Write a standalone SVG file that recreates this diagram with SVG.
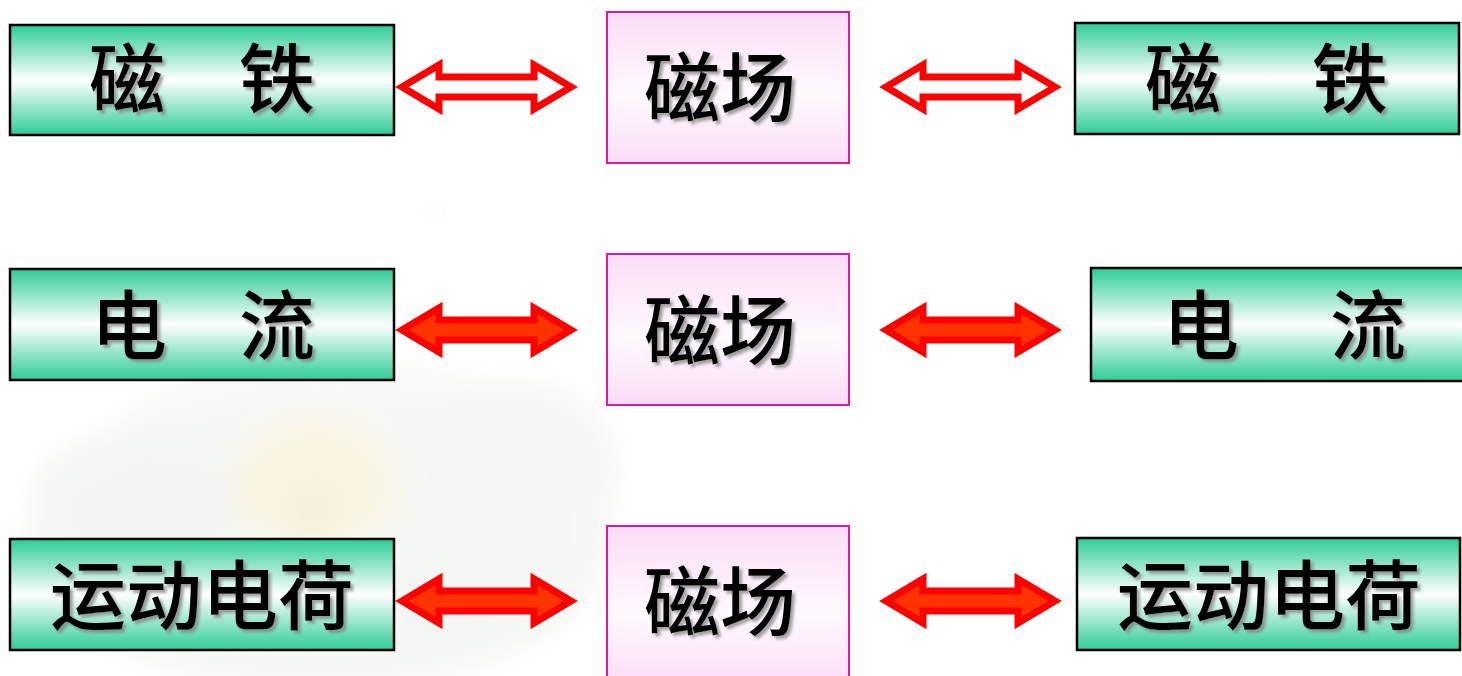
<svg xmlns="http://www.w3.org/2000/svg" width="1462" height="676" viewBox="0 0 1462 676">
<defs>
<linearGradient id="gGreen" x1="0" y1="0" x2="0" y2="1">
<stop offset="0" stop-color="#2ecc96"/>
<stop offset="0.5" stop-color="#ffffff"/>
<stop offset="1" stop-color="#2ecc96"/>
</linearGradient>
<linearGradient id="gPink" x1="0" y1="0" x2="0" y2="1">
<stop offset="0" stop-color="#fadcf5"/>
<stop offset="0.55" stop-color="#fffaff"/>
<stop offset="1" stop-color="#fadcf5"/>
</linearGradient>
<filter id="shadow" x="-20%" y="-20%" width="140%" height="140%">
<feGaussianBlur in="SourceAlpha" stdDeviation="1.6" result="b"/>
<feOffset in="b" dx="3" dy="3" result="o"/>
<feFlood flood-color="#7a7a7a" flood-opacity="0.7"/>
<feComposite in2="o" operator="in" result="s"/>
<feMerge><feMergeNode in="s"/><feMergeNode in="SourceGraphic"/></feMerge>
</filter>
<filter id="blur" x="-30%" y="-30%" width="160%" height="160%">
<feGaussianBlur stdDeviation="16"/>
</filter>
<path id="arr" d="M6,0 L43,-22 L43,-10 L138,-10 L138,-22 L175,0 L138,22 L138,10 L43,10 L43,22 Z"/>
</defs>
<style>
.green{fill:url(#gGreen);stroke:#000;stroke-width:2.5}
.pink{fill:url(#gPink);stroke:#e0189a;stroke-width:2}
.t{font-family:"Noto Sans CJK SC","Noto Sans CJK TC",sans-serif;font-size:76px;font-weight:500;fill:#000;text-anchor:middle;filter:url(#shadow)}
.hollow{fill:#fff;stroke:#ff0000;stroke-width:7;stroke-linejoin:miter;stroke-miterlimit:10}
.solid{fill:#ff3300;stroke:#ff0000;stroke-width:7;stroke-linejoin:miter;stroke-miterlimit:10}
</style>
<rect width="1462" height="676" fill="#fff"/>
<g id="background" filter="url(#blur)" opacity="0.4">
<ellipse cx="320" cy="540" rx="290" ry="150" fill="#e6ebe2"/>
<ellipse cx="330" cy="460" rx="230" ry="100" fill="#edf0e8"/>
<ellipse cx="150" cy="500" rx="120" ry="70" fill="#e3e8df"/>
<ellipse cx="510" cy="470" rx="110" ry="90" fill="#e8ebe3"/>
<ellipse cx="315" cy="485" rx="80" ry="65" fill="#f3e6b2"/>
<ellipse cx="313" cy="508" rx="10" ry="10" fill="#8a8a78"/>
<ellipse cx="435" cy="212" rx="25" ry="3" fill="#d8d8d8"/>
</g>
<g id="connectors">
<use href="#arr" class="hollow" transform="translate(396,87)"/>
<use href="#arr" class="hollow" transform="translate(880,87)"/>
<use href="#arr" class="solid" transform="translate(396,330)"/>
<use href="#arr" class="solid" transform="translate(880,330)"/>
<use href="#arr" class="solid" transform="translate(396,601)"/>
<use href="#arr" class="solid" transform="translate(880,601)"/>
</g>
<g id="node-magnet-left">
<rect class="green" x="10" y="25" width="384" height="110"/>
<text class="t" x="127" y="107">磁</text>
<text class="t" x="277" y="107">铁</text>
</g>
<g id="node-field-1">
<rect class="pink" x="607" y="12" width="242" height="151"/>
<text class="t" x="720" y="116">磁场</text>
</g>
<g id="node-magnet-right">
<rect class="green" x="1075" y="23" width="384" height="111"/>
<text class="t" x="1183" y="107">磁</text>
<text class="t" x="1350" y="107">铁</text>
</g>
<g id="node-current-left">
<rect class="green" x="10" y="269" width="384" height="111"/>
<text class="t" x="129" y="354">电</text>
<text class="t" x="277" y="354">流</text>
</g>
<g id="node-field-2">
<rect class="pink" x="607" y="254" width="242" height="151"/>
<text class="t" x="720" y="359">磁场</text>
</g>
<g id="node-current-right">
<rect class="green" x="1091" y="268" width="380" height="113"/>
<text class="t" x="1201" y="354">电</text>
<text class="t" x="1368" y="354">流</text>
</g>
<g id="node-charge-left">
<rect class="green" x="10" y="539" width="384" height="111"/>
<text class="t" x="202" y="624">运动电荷</text>
</g>
<g id="node-field-3">
<rect class="pink" x="607" y="526" width="242" height="160"/>
<text class="t" x="720" y="630">磁场</text>
</g>
<g id="node-charge-right">
<rect class="green" x="1077" y="538" width="383" height="112"/>
<text class="t" x="1269" y="624">运动电荷</text>
</g>
</svg>
